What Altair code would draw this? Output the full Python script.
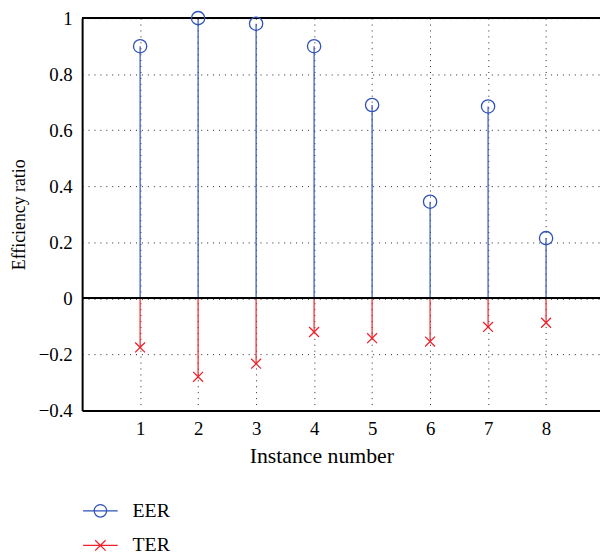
import altair as alt
import pandas as pd

instances = [1, 2, 3, 4, 5, 6, 7, 8]
eer = [0.90, 1.00, 0.98, 0.90, 0.69, 0.345, 0.685, 0.215]
ter = [-0.175, -0.28, -0.233, -0.12, -0.142, -0.154, -0.102, -0.087]
series_names = ["EER", "TER"]
y_ticks = [-0.4, -0.2, 0, 0.2, 0.4, 0.6, 0.8, 1]

BLUE = "#2f52b8"
RED = "#f0202a"
FONT = "Liberation Serif"

df = pd.DataFrame({
    "instance": instances * 2,
    "value": eer + ter,
    "series": ["EER"] * len(eer) + ["TER"] * len(ter),
})

circle_path = "M-1,0A1,1 0 1,0 1,0A1,1 0 1,0 -1,0"
x_path = "M-1,-1L1,1M-1,1L1,-1"

leg_eer = "M-1,0H1M-0.36,0A0.36,0.36 0 1,0 0.36,0A0.36,0.36 0 1,0 -0.36,0"
leg_ter = "M-1,0H1M-0.3,-0.3L0.3,0.3M-0.3,0.3L0.3,-0.3"

x_enc = alt.X(
    "instance:Q",
    scale=alt.Scale(domain=[0, 8.93], nice=False, zero=False),
    axis=alt.Axis(
        values=instances, format="d", title="Instance number",
        grid=True, gridDash=[1, 5], gridColor="#222222", gridWidth=1,
        ticks=False, labelPadding=9, domainWidth=2, domainColor="black",
        labelFont=FONT, labelFontSize=19, labelColor="black",
        titleFont=FONT, titleFontSize=22, titleFontWeight="normal",
        titleColor="black", titlePadding=8, titleX=242,
    ),
)
y_enc = alt.Y(
    "value:Q",
    scale=alt.Scale(domain=[-0.4, 1], nice=False),
    axis=alt.Axis(
        values=y_ticks, format=".1~f", title="Efficiency ratio",
        grid=True, gridDash=[1, 5], gridColor="#222222", gridWidth=1,
        ticks=False, labelPadding=10, domainWidth=2, domainColor="black",
        labelFont=FONT, labelFontSize=19, labelColor="black",
        titleFont=FONT, titleFontSize=18, titleFontWeight="normal",
        titleColor="black", titlePadding=10,
    ),
)

color_scale = alt.Scale(domain=series_names, range=[BLUE, RED])

legend = alt.Legend(
    title=None, orient="none", legendX=0, legendY=480,
    symbolSize=1225, symbolStrokeWidth=1.3, symbolFillColor="transparent",
    labelFont=FONT, labelFontSize=20, labelColor="black", labelOffset=14,
    rowPadding=6,
    symbolType=alt.ExprRef(expr=f"datum.value === 'EER' ? '{leg_eer}' : '{leg_ter}'"),
)

base = alt.Chart(df)

rules_eer = base.transform_filter(alt.datum.series == "EER").mark_rule(
    color=BLUE, strokeWidth=1.2
).encode(x=x_enc, y=y_enc, y2=alt.datum(0))
rules_ter = base.transform_filter(alt.datum.series == "TER").mark_rule(
    color=RED, strokeWidth=1.2
).encode(x=x_enc, y=y_enc, y2=alt.datum(0))

zero_line = base.mark_rule(color="black", strokeWidth=1.4).encode(y=alt.datum(0))
top_line = base.mark_rule(color="black", strokeWidth=1.6).encode(y=alt.datum(1))

points_eer = base.transform_filter(alt.datum.series == "EER").mark_point(
    filled=False, size=180, strokeWidth=1.3, opacity=1, shape=circle_path
).encode(x=x_enc, y=y_enc, color=alt.Color("series:N", scale=color_scale, legend=legend))
points_ter = base.transform_filter(alt.datum.series == "TER").mark_point(
    filled=False, size=100, strokeWidth=1.3, opacity=1, shape=x_path
).encode(x=x_enc, y=y_enc, color=alt.Color("series:N", scale=color_scale, legend=legend))

chart = alt.layer(rules_eer, rules_ter, zero_line, top_line, points_eer, points_ter).properties(
    width=524, height=397,
    autosize=alt.AutoSizeParams(type="none"),
    padding={"left": 75, "top": 7, "right": 0, "bottom": 145},
).configure_view(stroke=None).configure(background="white")

chart.save("out.html", embed_options={"renderer": "svg", "actions": False})
